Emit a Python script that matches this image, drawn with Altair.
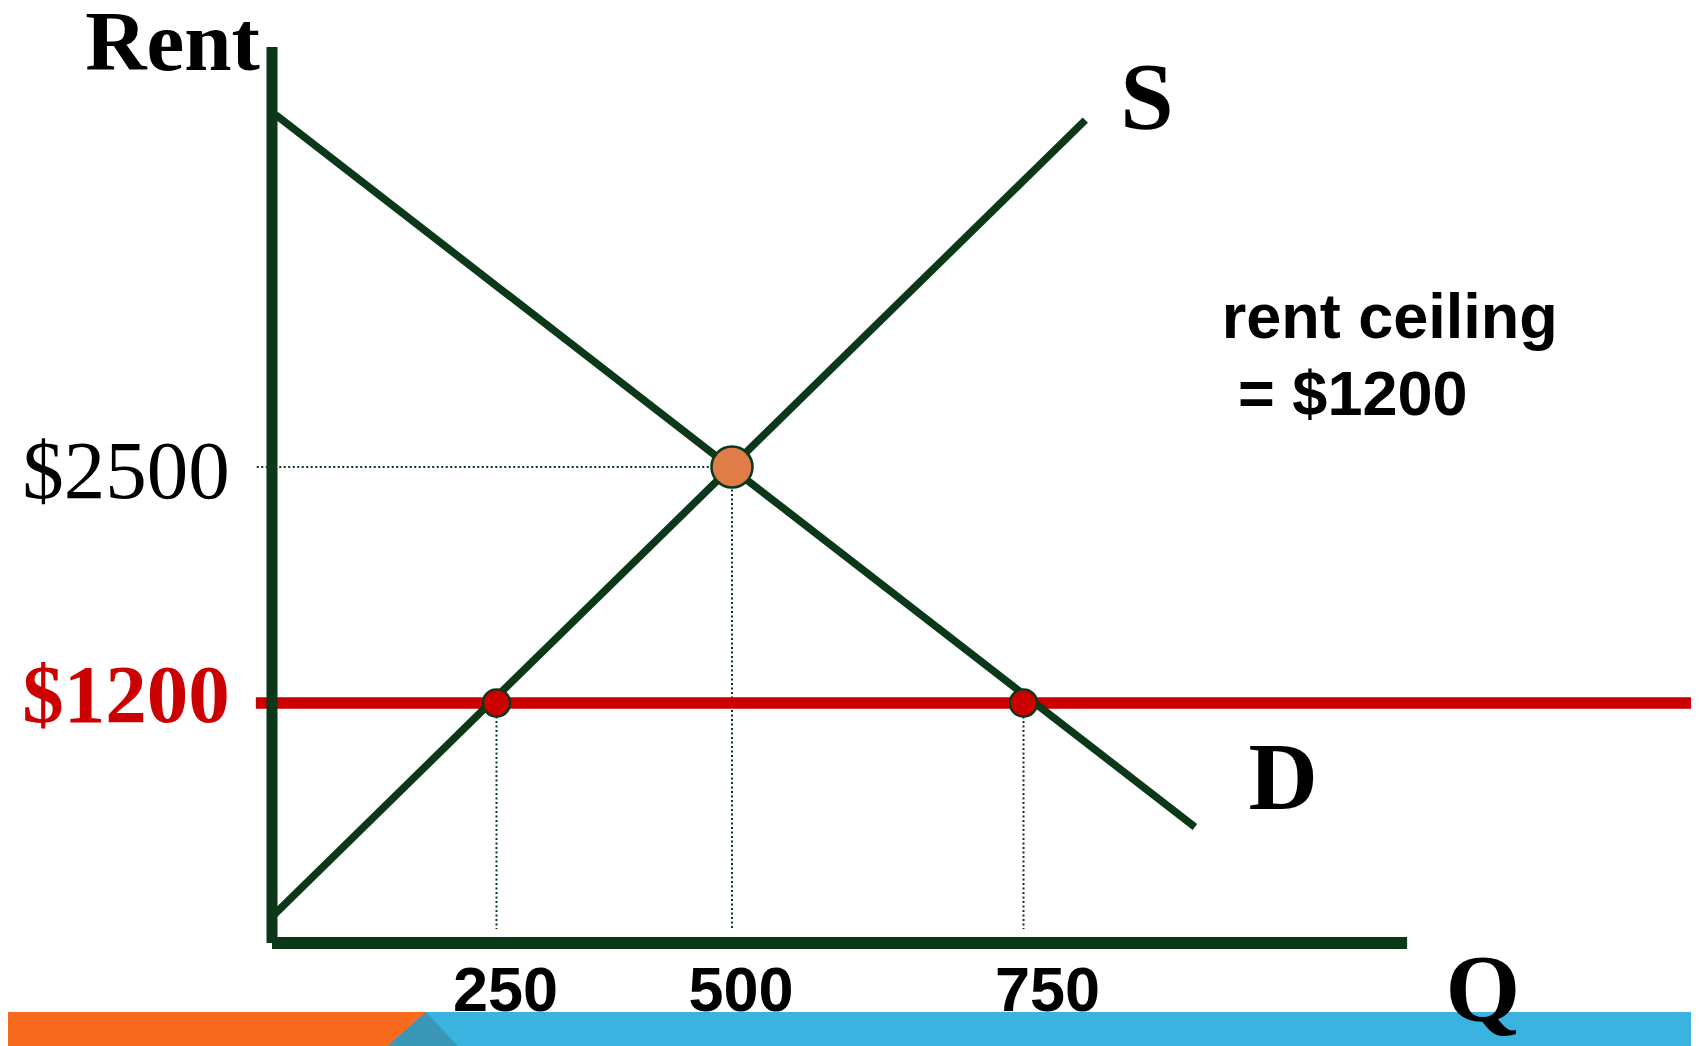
import altair as alt
import pandas as pd

# ---- data ----
supply_q = [2, 803]
supply_rent = [140, 4411]
demand_q = [4, 897]
demand_rent = [4440, 580]

ceiling_rent = 1200
equilibrium_q = 500
equilibrium_rent = 2500
shortage_q = [250, 750]          # quantity supplied / demanded at the ceiling
x_ticks = [250, 500, 750]
x_tick_labels = ["250", "500", "750"]

# ---- colours ----
GREEN = "#0B3818"
RED = "#CC0000"
ORANGE_PT = "#E07C48"
BAR_BLUE = "#3BB3E0"
BAR_ORANGE = "#F86A1E"
BAR_TEAL = "#3A97B5"

W, H = 1683, 1038
xs = alt.Scale(domain=[0, 250, 500, 750], range=[264, 488.5, 724, 1015.5], nice=False, zero=False)
ys = alt.Scale(domain=[0, 1200, 2500], range=[935, 695, 459], nice=False, zero=False)


def X(f="q"):
    return alt.X(f, type="quantitative", scale=xs, axis=None)


def Y(f="r"):
    return alt.Y(f, type="quantitative", scale=ys, axis=None)


# slide footer band
band = alt.Chart(pd.DataFrame({"q0": [-320], "q1": [1420], "r0": [-345], "r1": [-530]})).mark_rect(
    color=BAR_BLUE).encode(x=X("q0"), x2="q1", y=Y("r0"), y2="r1")
band_orange = alt.Chart(pd.DataFrame({"r": [-345, -530], "q0": [-320, -320], "q1": [171.5, 125]})).mark_area(
    orient="horizontal", color=BAR_ORANGE).encode(y=Y("r"), x=X("q0"), x2="q1")
band_teal = alt.Chart(pd.DataFrame({"r": [-345, -530], "q0": [171.5, 125], "q1": [171.5, 210]})).mark_area(
    orient="horizontal", color=BAR_TEAL).encode(y=Y("r"), x=X("q0"), x2="q1")

# dotted guides
dot_h = alt.Chart(pd.DataFrame({"r": [equilibrium_rent], "q0": [-17], "q1": [equilibrium_q]})).mark_rule(
    color=GREEN, strokeWidth=2, strokeDash=[2, 2.5]).encode(y=Y("r"), x=X("q0"), x2="q1")
dot_v = alt.Chart(pd.DataFrame({"q": shortage_q + [equilibrium_q],
                                "r0": [ceiling_rent, ceiling_rent, equilibrium_rent],
                                "r1": [70, 70, 70]})).mark_rule(
    color=GREEN, strokeWidth=2, strokeDash=[2, 2.5]).encode(x=X("q"), y=Y("r0"), y2="r1")

# rent ceiling line
ceil = alt.Chart(pd.DataFrame({"r": [ceiling_rent], "q0": [-18], "q1": [1330]})).mark_rule(
    color=RED, strokeWidth=11.5).encode(y=Y("r"), x=X("q0"), x2="q1")

# supply & demand
curves = pd.DataFrame({
    "curve": ["S", "S", "D", "D"],
    "q": supply_q + demand_q,
    "r": supply_rent + demand_rent,
})
lines = alt.Chart(curves).mark_line(color=GREEN, strokeWidth=7.5, strokeCap="butt").encode(
    x=X("q"), y=Y("r"), detail="curve:N")

# axes
y_axis = alt.Chart(pd.DataFrame({"q": [0], "r0": [0], "r1": [4813]})).mark_rule(
    color=GREEN, strokeWidth=11).encode(x=X("q"), y=Y("r0"), y2="r1")
x_axis = alt.Chart(pd.DataFrame({"r": [0], "q0": [0], "q1": [1079]})).mark_rule(
    color=GREEN, strokeWidth=12).encode(y=Y("r"), x=X("q0"), x2="q1")

# points
red_pts = alt.Chart(pd.DataFrame({"q": shortage_q, "r": [ceiling_rent] * 2})).mark_circle(
    size=740, opacity=1, color=RED, stroke=GREEN, strokeWidth=2.4).encode(x=X("q"), y=Y("r"))
eq_pt = alt.Chart(pd.DataFrame({"q": [equilibrium_q], "r": [equilibrium_rent]})).mark_circle(
    size=1680, opacity=1, color=ORANGE_PT, stroke=GREEN, strokeWidth=2.5).encode(x=X("q"), y=Y("r"))

# text
def label(df, **kw):
    return alt.Chart(df).mark_text(**kw).encode(x=X("q"), y=Y("r"), text="t:N")

serif = "Liberation Serif"
sans = "Liberation Sans"

t_rent = label(pd.DataFrame({"q": [-208], "r": [4687], "t": ["Rent"]}),
               align="left", baseline="alphabetic", font=serif, fontWeight="bold", fontSize=85, color="black")
t_2500 = label(pd.DataFrame({"q": [-47], "r": [2329], "t": ["$2500"]}),
               align="right", baseline="alphabetic", font=serif, fontSize=83, color="black")
t_1200 = label(pd.DataFrame({"q": [-47], "r": [1105], "t": ["$1200"]}),
               align="right", baseline="alphabetic", font=serif, fontWeight="bold", fontSize=83, color=RED)
t_curves = label(pd.DataFrame({"q": [833, 943, 1112], "r": [4362, 670, -390], "t": ["S", "D", "Q"]}),
                 align="left", baseline="alphabetic", font=serif, fontWeight="bold", fontSize=96, color="black")
tick_df = pd.DataFrame({"q": x_ticks, "r": [-340] * 3, "t": x_tick_labels})
t_ticks_a = label(tick_df.iloc[:2],
                  align="center", baseline="alphabetic", dx=9, font=sans, fontWeight="bold", fontSize=63, color="black")
t_ticks_b = label(tick_df.iloc[2:],
                  align="center", baseline="alphabetic", dx=24, font=sans, fontWeight="bold", fontSize=63, color="black")
t_note = label(pd.DataFrame({"q": [920, 934], "r": [3211, 2786], "t": ["rent ceiling", "= $1200"]}),
               align="left", baseline="alphabetic", font=sans, fontWeight="bold", fontSize=63, color="black")

chart = alt.layer(
    band, band_orange, band_teal,
    dot_h, dot_v, ceil, lines, y_axis, x_axis,
    red_pts, eq_pt,
    t_rent, t_2500, t_1200, t_curves, t_ticks_a, t_ticks_b, t_note,
).properties(
    width=W, height=H, padding=0, background="white",
    autosize=alt.AutoSizeParams(type="none"),
).configure_view(stroke=None)

chart.save("out.html", embed_options={"renderer": "svg", "actions": False})
